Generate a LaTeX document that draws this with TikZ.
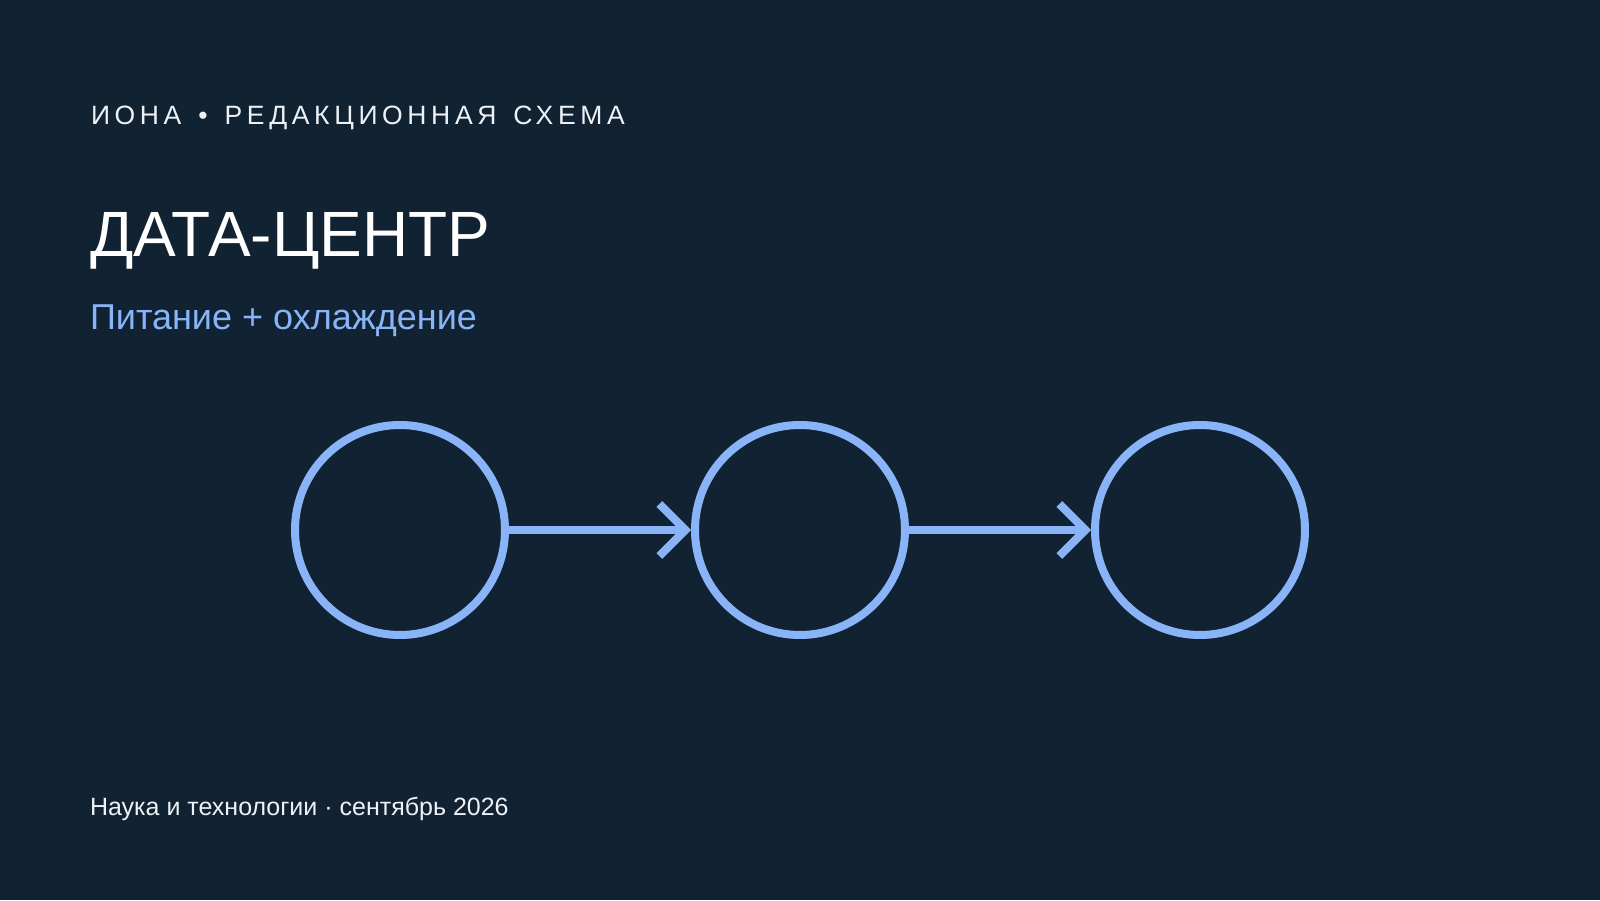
\documentclass[tikz,border=0pt]{standalone}
\usepackage{fontspec}
\setmainfont{Liberation Sans}
\usetikzlibrary{arrows.meta}
\definecolor{bgc}{HTML}{112233}
\definecolor{accent}{HTML}{8AB4F8}
\definecolor{headc}{HTML}{EEF2F6}
\newcommand{\wsp}{\hspace*{17pt}}
\begin{document}
\begin{tikzpicture}[x=1pt,y=1pt,
  stage/.style={circle, draw=accent, line width=8pt, minimum size=210pt, inner sep=0pt},
  flow/.style={draw=accent, line width=8pt, -{Straight Barb[length=26pt,width=52pt,line width=8pt]}},
  txt/.style={anchor=base west, inner sep=0pt, outer sep=0pt}]
\fill[bgc] (0,0) rectangle (1600,900);
\useasboundingbox (0,0) rectangle (1600,900);
\node[txt, text=headc, font={\fontsize{26.5}{30}\selectfont\addfontfeature{LetterSpace=17.5}}] (head) at (91,775) {ИОНА\wsp•\wsp РЕДАКЦИОННАЯ\wsp СХЕМА};
\node[txt, text=white, font={\fontsize{64}{70}\selectfont}] (title) at (90,643) {ДАТА-ЦЕНТР};
\node[txt, text=accent, font={\fontsize{36}{40}\selectfont}] (sub) at (90,570) {Питание + охлаждение};
\node[txt, text=headc, font={\fontsize{25}{28}\selectfont}] (foot) at (90,85) {Наука и технологии · сентябрь 2026};
\node[stage] (c1) at (400,370) {};
\node[stage] (c2) at (800,370) {};
\node[stage] (c3) at (1200,370) {};
\draw[flow] (c1) -- (c2);
\draw[flow] (c2) -- (c3);
\end{tikzpicture}
\end{document}
